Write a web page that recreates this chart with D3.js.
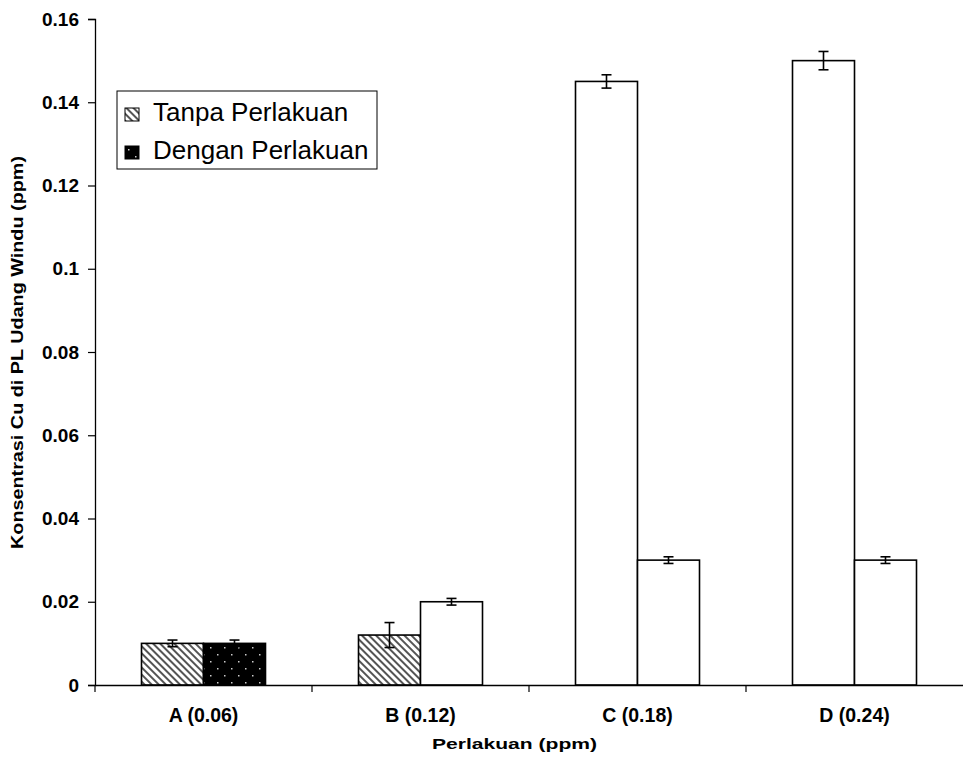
<!DOCTYPE html>
<html>
<head>
<meta charset="utf-8">
<script src="https://cdn.jsdelivr.net/npm/d3@7"></script>
<style>
  body { margin: 0; background: #fff; }
  svg { display: block; font-family: "Liberation Sans", Arial, sans-serif; }
</style>
</head>
<body>
<svg id="chart" width="963" height="758"></svg>
<script>
// data
var categories = ["A (0.06)", "B (0.12)", "C (0.18)", "D (0.24)"];
var seriesNames = ["Tanpa Perlakuan", "Dengan Perlakuan"];
var tanpa = [0.010, 0.012, 0.145, 0.150];
var tanpaErr = [0.0008, 0.003, 0.0016, 0.0022];
var dengan = [0.010, 0.020, 0.030, 0.030];
var denganErr = [0.0008, 0.0008, 0.0008, 0.0008];
var yTicks = [0, 0.02, 0.04, 0.06, 0.08, 0.1, 0.12, 0.14, 0.16];

// fill of each bar as it appears in the original (A: hatch / dots, rest plain)
var tanpaFill = ["hatch", "hatch", "none", "none"];
var denganFill = ["dots", "none", "none", "none"];

var svg = d3.select("#chart");
var margin = { left: 95, right: 963, top: 19, bottom: 685 };
var font = "Liberation Sans, Arial, sans-serif";

// patterns
var defs = svg.append("defs");
var hatch = defs.append("pattern")
    .attr("id", "hatch")
    .attr("patternUnits", "userSpaceOnUse")
    .attr("width", 5).attr("height", 5)
    .attr("patternTransform", "rotate(-45)");
hatch.append("rect").attr("width", 5).attr("height", 5).attr("fill", "#fff");
hatch.append("rect").attr("x", 0).attr("width", 2).attr("height", 5).attr("fill", "#555");

var dots = defs.append("pattern")
    .attr("id", "dots")
    .attr("patternUnits", "userSpaceOnUse")
    .attr("width", 14).attr("height", 14);
dots.append("rect").attr("width", 14).attr("height", 14).attr("fill", "#000");
dots.append("rect").attr("x", 3).attr("y", 3).attr("width", 1.5).attr("height", 1.5).attr("fill", "#ccc");
dots.append("rect").attr("x", 10).attr("y", 10).attr("width", 1.5).attr("height", 1.5).attr("fill", "#ccc");

function fillOf(k) {
    if (k == "hatch") return "url(#hatch)";
    if (k == "dots") return "url(#dots)";
    return "#fff";
}

// scales
var x = d3.scaleBand()
    .domain(categories)
    .range([margin.left, margin.right]);

var x1 = d3.scaleBand()
    .domain([0, 1])
    .range([0, x.bandwidth()])
    .paddingInner(0)
    .paddingOuter(0.75);

var y = d3.scaleLinear()
    .domain([0, 0.16])
    .range([margin.bottom, margin.top]);

// y axis
var yAxis = d3.axisLeft(y)
    .tickValues(yTicks)
    .tickFormat(function(d) { return d == 0 ? "0" : String(+d.toFixed(2)); })
    .tickSizeOuter(0)
    .tickSize(7)
    .tickPadding(9);

var gy = svg.append("g")
    .attr("transform", "translate(" + margin.left + ",0)")
    .call(yAxis);
gy.select(".domain").attr("stroke", "#000").attr("stroke-width", 1.3);
gy.selectAll(".tick line").attr("stroke", "#000").attr("stroke-width", 1.2);
gy.selectAll("text")
    .attr("font-size", 19)
    .attr("font-weight", "bold")
    .attr("fill", "#000")
    .attr("font-family", font);

// bars
var rows = categories.map(function(c, i) {
    return [
        { cat: c, s: 0, v: tanpa[i], e: tanpaErr[i], f: tanpaFill[i] },
        { cat: c, s: 1, v: dengan[i], e: denganErr[i], f: denganFill[i] }
    ];
});

var groups = svg.selectAll("g.cat")
    .data(rows)
    .enter()
    .append("g")
    .attr("class", "cat")
    .attr("transform", function(d) { return "translate(" + x(d[0].cat) + ",0)"; });

groups.selectAll("rect")
    .data(function(d) { return d; })
    .enter()
    .append("rect")
    .attr("x", function(d) { return x1(d.s); })
    .attr("y", function(d) { return y(d.v); })
    .attr("width", x1.bandwidth())
    .attr("height", function(d) { return y(0) - y(d.v); })
    .attr("fill", function(d) { return fillOf(d.f); })
    .attr("stroke", "#000")
    .attr("stroke-width", 1.6);

// error bars
var eb = groups.selectAll("g.err")
    .data(function(d) { return d; })
    .enter()
    .append("g")
    .attr("class", "err")
    .attr("stroke", "#000")
    .attr("stroke-width", 1.6);

eb.append("line")
    .attr("x1", function(d) { return x1(d.s) + x1.bandwidth() / 2; })
    .attr("x2", function(d) { return x1(d.s) + x1.bandwidth() / 2; })
    .attr("y1", function(d) { return y(d.v + d.e); })
    .attr("y2", function(d) { return y(d.v - d.e); });

[1, -1].forEach(function(sg) {
    eb.append("line")
        .attr("x1", function(d) { return x1(d.s) + x1.bandwidth() / 2 - 5; })
        .attr("x2", function(d) { return x1(d.s) + x1.bandwidth() / 2 + 5; })
        .attr("y1", function(d) { return y(d.v + sg * d.e); })
        .attr("y2", function(d) { return y(d.v + sg * d.e); });
});

// x axis (ticks between categories)
var xAxis = d3.axisBottom(x).tickSize(0).tickPadding(23);
var gx = svg.append("g")
    .attr("transform", "translate(0," + margin.bottom + ")")
    .call(xAxis);
gx.select(".domain").attr("stroke", "#000").attr("stroke-width", 1.3);
gx.selectAll("text")
    .attr("font-size", 19.5)
    .attr("font-weight", "bold")
    .attr("fill", "#000")
    .attr("font-family", font);

gx.selectAll("line.sep")
    .data(categories)
    .enter()
    .append("line")
    .attr("class", "sep")
    .attr("x1", function(d) { return x(d); })
    .attr("x2", function(d) { return x(d); })
    .attr("y1", 0)
    .attr("y2", 7)
    .attr("stroke", "#000")
    .attr("stroke-width", 1.2);

// axis titles (the original text is stretched sideways)
svg.append("text")
    .attr("x", 432)
    .attr("y", 749)
    .attr("font-size", 15.5)
    .attr("font-weight", "bold")
    .attr("textLength", 165)
    .attr("lengthAdjust", "spacingAndGlyphs")
    .text("Perlakuan (ppm)");

svg.append("text")
    .attr("transform", "translate(23,549) rotate(-90)")
    .attr("font-size", 16)
    .attr("font-weight", "bold")
    .attr("textLength", 393)
    .attr("lengthAdjust", "spacingAndGlyphs")
    .text("Konsentrasi Cu di PL Udang Windu (ppm)");

// legend
var lg = svg.append("g").attr("transform", "translate(117,91)");
lg.append("rect")
    .attr("width", 260).attr("height", 78)
    .attr("fill", "#fff").attr("stroke", "#000").attr("stroke-width", 1);

var legendFill = ["hatch", "dots"];
var li = lg.selectAll("g.item")
    .data(seriesNames)
    .enter()
    .append("g")
    .attr("class", "item")
    .attr("transform", function(d, i) { return "translate(8," + (17 + i * 38) + ")"; });

li.append("rect")
    .attr("width", 14).attr("height", 13)
    .attr("fill", function(d, i) { return fillOf(legendFill[i]); })
    .attr("stroke", "#000").attr("stroke-width", 1);

li.append("text")
    .attr("x", 28)
    .attr("y", 13)
    .attr("font-size", 26)
    .text(function(d) { return d; });
</script>
</body>
</html>
